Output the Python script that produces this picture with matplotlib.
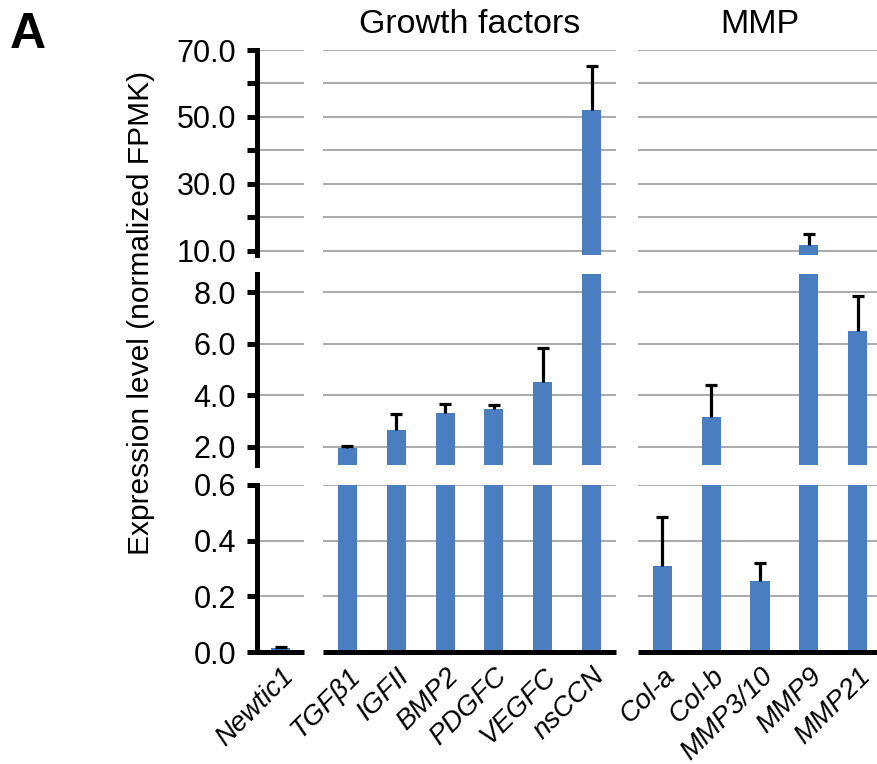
import matplotlib
matplotlib.use("Agg")
import matplotlib.pyplot as plt
import numpy as np

plt.rcParams['font.family'] = ['Liberation Sans', 'DejaVu Sans']

# ---- data -------------------------------------------------------------
newtic_labels = ['Newtic1']
newtic_vals = [0.013]
newtic_err = [0.004]

growth_labels = ['TGFβ1', 'IGFII', 'BMP2', 'PDGFC', 'VEGFC', 'nsCCN']
growth_vals = [1.94, 2.67, 3.31, 3.47, 4.50, 52.1]
growth_err = [0.10, 0.62, 0.34, 0.14, 1.34, 13.2]

mmp_labels = ['Col-a', 'Col-b', 'MMP3/10', 'MMP9', 'MMP21']
mmp_vals = [0.31, 3.15, 0.255, 11.7, 6.5]
mmp_err = [0.175, 1.26, 0.063, 3.2, 1.33]

groups = [
    (newtic_labels, newtic_vals, newtic_err, None),
    (growth_labels, growth_vals, growth_err, 'Growth factors'),
    (mmp_labels, mmp_vals, mmp_err, 'MMP'),
]

# y-axis segments: (ylim, major ticks, minor ticks)
segments = [
    ((8.7, 70.0), [10, 30, 50, 70], [20, 40, 60]),
    ((1.3, 8.7), [2, 4, 6, 8], []),
    ((0.0, 0.6), [0.0, 0.2, 0.4, 0.6], []),
]

# ---- layout (pixels) --------------------------------------------------
W, H = 877, 764
col_px = [(257, 304), (323, 616), (638, 882)]
row_px = [(50, 255), (274, 465), (485, 652)]

BLUE = '#4a7ec0'
GRID = '#9c9c9c'
LW_AX = 3.6

fig = plt.figure(figsize=(W / 100, H / 100), dpi=100)


def frac_rect(xr, yr):
    x0, x1 = xr
    y0, y1 = yr
    return [x0 / W, 1 - y1 / H, (x1 - x0) / W, (y1 - y0) / H]


for gi, (labels, vals, errs, title) in enumerate(groups):
    x = np.arange(len(labels))
    for ri, (ylim, major, minor) in enumerate(segments):
        ax = fig.add_axes(frac_rect(col_px[gi], row_px[ri]))
        ax.set_xlim(-0.5, len(labels) - 0.5)
        ax.set_ylim(*ylim)
        for s in ax.spines.values():
            s.set_visible(False)

        # horizontal grid lines at every tick level
        for v in list(major) + list(minor):
            if ri == 2 and v == 0:
                continue
            ax.axhline(v, color=GRID, lw=1.2, zorder=0)

        ax.bar(x, vals, width=0.39, color=BLUE, zorder=2)
        # upper-only error bars: hide the cap that sits on the bar top
        _, caps, _ = ax.errorbar(x, vals, yerr=[np.zeros(len(vals)), errs],
                                 fmt='none', ecolor='black', elinewidth=2.3,
                                 capsize=4.5, capthick=2.3, zorder=3)
        caps[0].set_visible(False)

        if gi == 0:
            ax.spines['left'].set_visible(True)
            ax.spines['left'].set_linewidth(LW_AX)
            ax.set_yticks(major)
            ax.set_yticklabels([f'{v:.1f}' for v in major])
            ax.set_yticks(minor, minor=True)
            ax.tick_params(axis='y', which='both', length=7, width=LW_AX,
                           labelsize=22, pad=8)
        else:
            ax.set_yticks([])
            ax.set_yticks([], minor=True)

        if ri == 2:
            ax.spines['bottom'].set_visible(True)
            ax.spines['bottom'].set_linewidth(LW_AX)
            ax.spines['bottom'].set_capstyle('butt')
            ax.set_xticks(x)
            ax.set_xticklabels(labels, rotation=45, ha='right', va='top',
                               rotation_mode='anchor', fontstyle='italic',
                               fontsize=20)
            ax.tick_params(axis='x', length=0, pad=8)
        else:
            ax.set_xticks([])

        if ri == 0 and title:
            cx = (col_px[gi][0] + col_px[gi][1]) / 2
            fig.text(cx / W, 1 - 33 / H, title, ha='center', va='baseline',
                     fontsize=24.5)

fig.text(141 / W, 1 - 313 / H, 'Expression level (normalized FPMK)',
         rotation=90, ha='center', va='center', fontsize=21.5)
fig.text(10 / W, 1 - 48 / H, 'A', ha='left', va='baseline',
         fontsize=36, fontweight='bold')

fig.savefig('out.png', dpi=100)
